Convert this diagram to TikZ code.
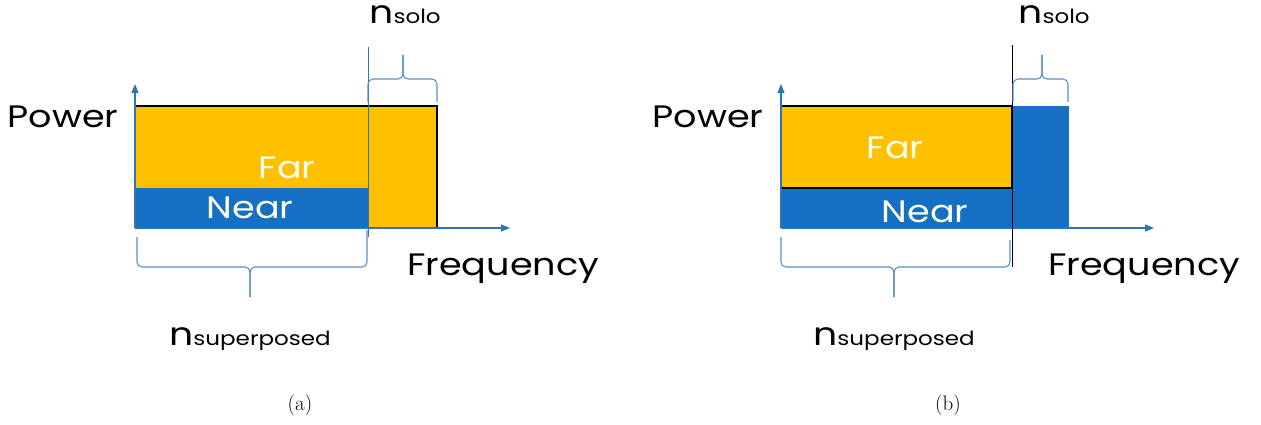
\documentclass[tikz,border=0pt]{standalone}
\usepackage{fontspec}
\newfontfamily\gfont{Poppins}[FakeStretch=1.18]
\usetikzlibrary{arrows.meta}
\definecolor{gold}{HTML}{FFC000}
\definecolor{nearblue}{HTML}{1570C4}
\definecolor{axisblue}{HTML}{2E75B6}
\definecolor{braceblue}{HTML}{5B8FCB}
\tikzset{
  axis/.style={axisblue, line width=1.2pt, -{Triangle[length=9pt,width=7pt]}},
  bracepath/.style={braceblue, line width=1.1pt, rounded corners=5pt},
  lbl/.style={font=\gfont\fontsize{31}{31}\selectfont, inner sep=0pt},
  inlbl/.style={lbl, text=white!92!yellow},
  nlbl/.style={font=\gfont\fontsize{32}{32}\selectfont, inner sep=0pt},
  captext/.style={font=\fontsize{21}{21}\selectfont, inner sep=0pt},
}
\newcommand{\nsub}[1]{n\fontsize{19.5}{19.5}\selectfont #1}
\begin{document}
\begin{tikzpicture}[x=1pt,y=-1pt]
\useasboundingbox (0,0) rectangle (1261,425);

% ---------------- (a) ----------------
\fill[gold] (135,106) rectangle (437,228);
\fill[nearblue] (135,188) rectangle (368,228);
\draw[black, line width=2pt] (368,228) -- (437,228) -- (437,106) -- (135,106) -- (135,228);
\draw[nearblue!70!black, line width=1.2pt] (135,228) -- (368,228);
\coordinate (oA) at (135,228);
\coordinate (yA) at (135,84);
\coordinate (xA) at (510,228);
\draw[axis] (oA) -- (yA);
\draw[axis] (oA) -- (xA);
\draw[axisblue, line width=1pt] (368,47) -- (368,237);
% brace under the shared band
\draw[bracepath] (137,237) |- (250,267) -- (250,297);
\draw[bracepath] (250,297) -- (250,267) -| (367,230);
% brace over the solo band
\draw[bracepath] (368,102) |- (403,79) -- (403,55);
\draw[bracepath] (403,55) -- (403,79) -| (437,102);

\node[lbl]   (powA) at (63,117)  {Power};
\node[inlbl] (farA) at (287,168) {Far};
\node[inlbl] (nearA) at (250,208) {Near};
\node[lbl]   (freqA) at (503,269) {Frequency};
\node[nlbl]  (soloA) at (405,15) {\nsub{solo}};
\node[nlbl]  (supA) at (250,339) {\nsub{superposed}};
\node[captext] (capA) at (300,405) {(a)};

% ---------------- (b) ----------------
\fill[nearblue] (781,188) rectangle (1012,228);
\fill[nearblue] (1012,106) rectangle (1069,228);
\fill[gold] (781,106) rectangle (1012,188);
\draw[black, line width=2.2pt] (781,106) rectangle (1012,188);
\coordinate (oB) at (781,228);
\coordinate (yB) at (781,84);
\coordinate (xB) at (1154,228);
\draw[axis] (oB) -- (yB);
\draw[axis] (oB) -- (xB);
\draw[black, line width=1pt] (1012,45) -- (1012,267);
% brace under the shared band
\draw[bracepath] (781,237) |- (894,267) -- (894,297);
\draw[bracepath] (894,297) -- (894,267) -| (1010,240);
% brace over the solo band
\draw[bracepath] (1013,102) |- (1042,79) -- (1042,55);
\draw[bracepath] (1042,55) -- (1042,79) -| (1068,102);

\node[lbl]   (powB) at (708,117)  {Power};
\node[inlbl] (farB) at (895,148) {Far};
\node[inlbl] (nearB) at (925,212) {Near};
\node[lbl]   (freqB) at (1144,269) {Frequency};
\node[nlbl]  (soloB) at (1054,15) {\nsub{solo}};
\node[nlbl]  (supB) at (894,339) {\nsub{superposed}};
\node[captext] (capB) at (948,405) {(b)};
\end{tikzpicture}
\end{document}
